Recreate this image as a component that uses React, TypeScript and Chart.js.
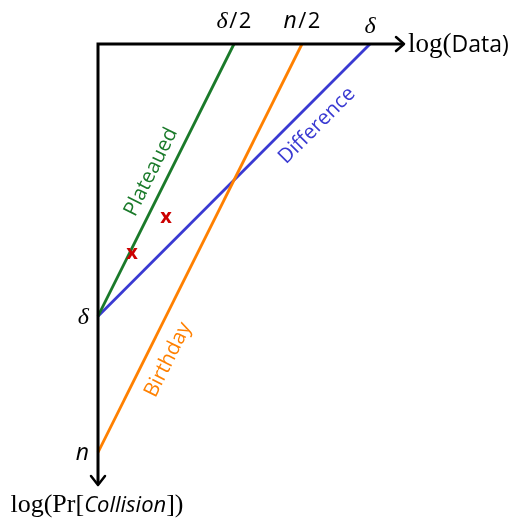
import { useEffect, useRef } from "react";
import { Chart, registerables } from "chart.js";

Chart.register(...registerables);

// ---- data (in units where δ = 2, n = 3) ----
const plateauedX = [0, 1];
const plateauedY = [2, 0];
const birthdayX = [0, 1.5];
const birthdayY = [3, 0];
const differenceX = [0, 2];
const differenceY = [2, 0];
const markX = [0.25, 0.5];
const markY = [1.55, 1.29];
const xTickValues = [1, 1.5, 2];
const xTickLabels = ["δ/2", "n/2", "δ"];
const yTickValues = [2, 3];
const yTickLabels = ["δ", "n"];
const seriesNames = ["Plateaued", "Birthday", "Difference"];
const labelX = [0.39, 0.515, 1.61];
const labelY = [0.94, 2.32, 0.6];

const GREEN = "#1a7a2a";
const ORANGE = "#ff8000";
const BLUE = "#3a3ad2";
const RED = "#cc0000";
const SANS = "'Open Sans', 'Noto Sans', sans-serif";
const SERIF = "'Liberation Serif', 'DejaVu Serif', serif";

type Seg = { text: string; font: string };

function tickSegs(label: string): Seg[] {
  const segs: Seg[] = [];
  for (const ch of label) {
    let font: string;
    if (/[α-ω]/.test(ch)) font = `italic 24px ${SERIF}`;
    else if (/[a-zA-Z]/.test(ch)) font = `italic 23px ${SANS}`;
    else font = `22px ${SANS}`;
    segs.push({ text: ch, font });
  }
  return segs;
}

function drawSegs(
  ctx: CanvasRenderingContext2D,
  segs: Seg[],
  x: number,
  y: number,
  align: "left" | "center" | "right",
  gap = 0
) {
  ctx.save();
  ctx.textBaseline = "alphabetic";
  ctx.textAlign = "left";
  let total = 0;
  const widths = segs.map((s) => {
    ctx.font = s.font;
    const w = ctx.measureText(s.text).width;
    total += w;
    return w;
  });
  total += gap * (segs.length - 1);
  let cx = align === "left" ? x : align === "center" ? x - total / 2 : x - total;
  segs.forEach((s, i) => {
    ctx.font = s.font;
    ctx.fillText(s.text, cx, y);
    cx += widths[i] + gap;
  });
  ctx.restore();
}

export default function App() {
  const ref = useRef<HTMLCanvasElement>(null);

  useEffect(() => {
    const canvas = ref.current!;
    const mk = (xs: number[], ys: number[]) => xs.map((x, i) => ({ x, y: ys[i] }));
    const lineColors = [GREEN, ORANGE, BLUE];
    const lineData = [
      [plateauedX, plateauedY],
      [birthdayX, birthdayY],
      [differenceX, differenceY],
    ];

    const overlay = {
      id: "overlay",
      afterDatasetsDraw(chart: any) {
        const ctx: CanvasRenderingContext2D = chart.ctx;
        const xs = chart.scales.x;
        const ys = chart.scales.y;
        const ox = xs.getPixelForValue(0);
        const oy = ys.getPixelForValue(0);
        const xEnd = xs.getPixelForValue(xs.max);
        const yEnd = ys.getPixelForValue(ys.max);

        // axes
        ctx.save();
        ctx.strokeStyle = "#000";
        ctx.lineWidth = 3;
        ctx.lineJoin = "miter";
        ctx.lineCap = "butt";
        ctx.beginPath();
        ctx.moveTo(xEnd - 1, oy);
        ctx.lineTo(ox, oy);
        ctx.lineTo(ox, yEnd - 1);
        ctx.stroke();
        ctx.lineWidth = 2.5;
        ctx.lineJoin = "round";
        ctx.lineCap = "round";
        ctx.beginPath();
        ctx.moveTo(xEnd - 8, oy - 7);
        ctx.lineTo(xEnd, oy);
        ctx.lineTo(xEnd - 8, oy + 7);
        ctx.stroke();
        ctx.beginPath();
        ctx.moveTo(ox - 7, yEnd - 9);
        ctx.lineTo(ox, yEnd);
        ctx.lineTo(ox + 7, yEnd - 9);
        ctx.stroke();
        ctx.restore();

        ctx.fillStyle = "#000";
        // x ticks
        xTickValues.forEach((v, i) => {
          const px = xs.getPixelForValue(v);
          const lab = xTickLabels[i];
          const base = lab.length === 1 ? 33 : 28;
          drawSegs(ctx, tickSegs(lab), px, base, "center", 1.5);
        });
        // y ticks
        yTickValues.forEach((v, i) => {
          const py = ys.getPixelForValue(v);
          drawSegs(ctx, tickSegs(yTickLabels[i]), ox - 9, py + 8, "right");
        });

        // axis titles
        drawSegs(
          ctx,
          [
            { text: "log(", font: `27px ${SERIF}` },
            { text: "Data)", font: `23px ${SANS}` },
          ],
          xEnd + 4,
          oy + 8,
          "left"
        );
        drawSegs(
          ctx,
          [
            { text: "log(Pr[", font: `26px ${SERIF}` },
            { text: "Collision", font: `italic 22px ${SANS}` },
            { text: "])", font: `26px ${SERIF}` },
          ],
          ox - 1,
          yEnd + 27,
          "center"
        );

        // series labels
        seriesNames.forEach((name, i) => {
          const [lx, ly] = lineData[i];
          const p0x = xs.getPixelForValue(lx[0]);
          const p0y = ys.getPixelForValue(ly[0]);
          const p1x = xs.getPixelForValue(lx[1]);
          const p1y = ys.getPixelForValue(ly[1]);
          const ang = Math.atan2(p1y - p0y, p1x - p0x);
          ctx.save();
          ctx.translate(xs.getPixelForValue(labelX[i]), ys.getPixelForValue(labelY[i]));
          ctx.rotate(ang);
          ctx.fillStyle = lineColors[i];
          ctx.font = `20.5px ${SANS}`;
          ctx.textAlign = "center";
          ctx.textBaseline = "middle";
          ctx.fillText(name, 0, 0);
          ctx.restore();
        });

        // red x marks
        ctx.save();
        ctx.fillStyle = RED;
        ctx.font = `bold 20px ${SANS}`;
        ctx.textAlign = "center";
        ctx.textBaseline = "middle";
        markX.forEach((v, i) => {
          ctx.fillText("x", xs.getPixelForValue(v), ys.getPixelForValue(markY[i]) - 2);
        });
        ctx.restore();
      },
    };

    const chart = new Chart(canvas, {
      type: "scatter",
      data: {
        datasets: [
          ...lineData.map(([xv, yv], i) => ({
            label: seriesNames[i],
            data: mk(xv, yv),
            showLine: true,
            borderColor: lineColors[i],
            backgroundColor: lineColors[i],
            borderWidth: 2.8,
            pointRadius: 0,
            clip: false as any,
          })),
          {
            label: "marks",
            data: mk(markX, markY),
            showLine: false,
            pointRadius: 0,
          },
        ],
      },
      options: {
        responsive: false,
        animation: false,
        devicePixelRatio: 1,
        layout: { padding: { left: 98, top: 44, right: 111, bottom: 36 } },
        scales: {
          x: { type: "linear", min: 0, max: 2.25, display: false },
          y: { type: "linear", min: 0, max: 3.24, reverse: true, display: false },
        },
        plugins: { legend: { display: false }, tooltip: { enabled: false } },
      },
      plugins: [overlay],
    });
    return () => chart.destroy();
  }, []);

  return (
    <div style={{ position: "absolute", left: 0, top: 0, width: 515, height: 521, background: "#fff" }}>
      <canvas ref={ref} width={515} height={521} style={{ display: "block" }} />
    </div>
  );
}
